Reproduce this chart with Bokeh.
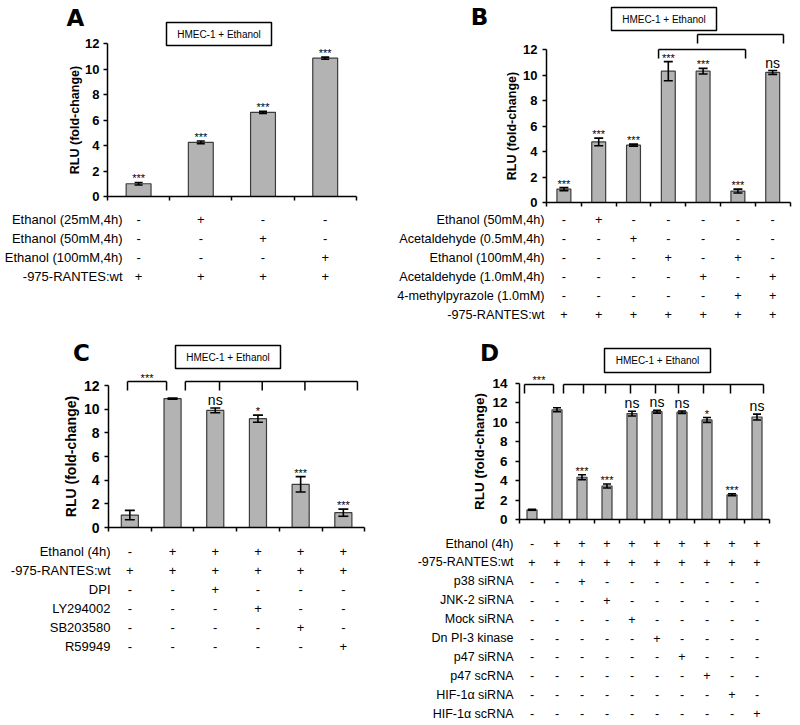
from bokeh.plotting import figure
from bokeh.models import Range1d, LinearAxis, FixedTicker, Whisker, ColumnDataSource, TeeHead
from bokeh.layouts import gridplot
from bokeh.embed import file_html
from bokeh.resources import INLINE
from bokeh.core.properties import value

FONT = "Liberation Sans"
LETTER_FONT = "DejaVu Sans"
BAR_FILL = "#b3b3b3"
BAR_LINE = "#3c3c3c"
BOX_TEXT = "HMEC-1 + Ethanol"
Y_LABEL = "RLU (fold-change)"

# ---------------- Panel A ----------------
a_values = [1.0, 4.25, 6.6, 10.85]
a_errors = [0.1, 0.1, 0.08, 0.08]
a_marks = ["***", "***", "***", "***"]
a_rows = ["Ethanol (25mM,4h)", "Ethanol (50mM,4h)", "Ethanol (100mM,4h)", "-975-RANTES:wt"]
a_table = [
    ["-", "+", "-", "-"],
    ["-", "-", "+", "-"],
    ["-", "-", "-", "+"],
    ["+", "+", "+", "+"],
]
a_yticks = [0, 2, 4, 6, 8, 10, 12]

# ---------------- Panel B ----------------
b_values = [1.05, 4.75, 4.5, 10.3, 10.3, 0.9, 10.2]
b_errors = [0.12, 0.3, 0.08, 0.75, 0.22, 0.15, 0.15]
b_marks = ["***", "***", "***", "***", "***", "***", "ns"]
b_rows = ["Ethanol (50mM,4h)", "Acetaldehyde (0.5mM,4h)", "Ethanol (100mM,4h)",
          "Acetaldehyde (1.0mM,4h)", "4-methylpyrazole (1.0mM)", "-975-RANTES:wt"]
b_table = [
    ["-", "+", "-", "-", "-", "-", "-"],
    ["-", "-", "+", "-", "-", "-", "-"],
    ["-", "-", "-", "+", "-", "+", "-"],
    ["-", "-", "-", "-", "+", "-", "+"],
    ["-", "-", "-", "-", "-", "+", "+"],
    ["+", "+", "+", "+", "+", "+", "+"],
]
b_yticks = [0, 2, 4, 6, 8, 10, 12]

# ---------------- Panel C ----------------
c_values = [1.05, 10.9, 9.9, 9.2, 3.65, 1.25]
c_errors = [0.4, 0.05, 0.2, 0.3, 0.65, 0.3]
c_marks = ["", "", "ns", "*", "***", "***"]
c_rows = ["Ethanol (4h)", "-975-RANTES:wt", "DPI", "LY294002", "SB203580", "R59949"]
c_table = [
    ["-", "+", "+", "+", "+", "+"],
    ["+", "+", "+", "+", "+", "+"],
    ["-", "-", "+", "-", "-", "-"],
    ["-", "-", "-", "+", "-", "-"],
    ["-", "-", "-", "-", "+", "-"],
    ["-", "-", "-", "-", "-", "+"],
]
c_yticks = [0, 2, 4, 6, 8, 10, 12]

# ---------------- Panel D ----------------
d_values = [1.0, 11.3, 4.35, 3.45, 10.9, 11.1, 11.05, 10.25, 2.55, 10.55]
d_errors = [0.05, 0.2, 0.25, 0.2, 0.25, 0.15, 0.12, 0.25, 0.1, 0.3]
d_marks = ["", "", "***", "***", "ns", "ns", "ns", "*", "***", "ns"]
d_rows = ["Ethanol (4h)", "-975-RANTES:wt", "p38 siRNA", "JNK-2 siRNA", "Mock siRNA",
          "Dn PI-3 kinase", "p47 siRNA", "p47 scRNA", "HIF-1\u03b1 siRNA", "HIF-1\u03b1 scRNA"]
d_table = [
    ["-", "+", "+", "+", "+", "+", "+", "+", "+", "+"],
    ["+", "+", "+", "+", "+", "+", "+", "+", "+", "+"],
    ["-", "-", "+", "-", "-", "-", "-", "-", "-", "-"],
    ["-", "-", "-", "+", "-", "-", "-", "-", "-", "-"],
    ["-", "-", "-", "-", "+", "-", "-", "-", "-", "-"],
    ["-", "-", "-", "-", "-", "+", "-", "-", "-", "-"],
    ["-", "-", "-", "-", "-", "-", "+", "-", "-", "-"],
    ["-", "-", "-", "-", "-", "-", "-", "+", "-", "-"],
    ["-", "-", "-", "-", "-", "-", "-", "-", "+", "-"],
    ["-", "-", "-", "-", "-", "-", "-", "-", "-", "+"],
]
d_yticks = [0, 2, 4, 6, 8, 10, 12, 14]

# ---------------- layout geometry (picture pixels) ----------------
GEO = {
    "A": dict(fig=(0, 0, 392, 330), axis_x=107, y0=196, s=12.75, c=62.2,
              row0=219, row_step=19.0, label_dx=15, cap=8,
              box=(166, 22, 271, 45), letter=(75, 17),
              tick_fs="13px", tick_standoff=4, lab_fs="12.5px", lab_standoff=0, tbl_fs="13px",
              brackets=[]),
    "B": dict(fig=(392, 0, 408, 330), axis_x=546, y0=202, s=12.75, c=34.8,
              row0=219, row_step=19.0, label_dx=-2, cap=9,
              box=(611, 7, 716, 30), letter=(479, 16),
              tick_fs="13px", tick_standoff=5, lab_fs="12.5px", lab_standoff=1, tbl_fs="12.7px",
              brackets=[dict(legs=[3.22, 5.72], top=12.0, bot=11.3, mark=""),
                        dict(legs=[4.34, 6.81], top=13.18, bot=12.47, mark="")]),
    "C": dict(fig=(0, 330, 392, 395), axis_x=108, y0=527, s=11.83, c=42.7,
              row0=551, row_step=18.9, label_dx=2, cap=10,
              box=(175, 345, 280, 368), letter=(81, 352),
              tick_fs="14px", tick_standoff=5, lab_fs="14px", lab_standoff=2, tbl_fs="13px",
              brackets=[dict(legs=[0.445, 1.36], top=12.34, bot=11.58, mark="***"),
                        dict(legs=[1.8, 2.6, 3.6, 4.6, 5.83], top=12.34, bot=11.58, mark="")]),
    "D": dict(fig=(392, 330, 408, 395), axis_x=519, y0=519, s=9.714, c=25.0,
              row0=543, row_step=18.9, label_dx=-6, cap=8,
              box=(604, 348, 710, 372), letter=(489, 352),
              tick_fs="13.5px", tick_standoff=8, lab_fs="13.5px", lab_standoff=2, tbl_fs="12.5px",
              brackets=[dict(legs=[0.2, 1.36], top=13.9, bot=12.97, mark="***"),
                        dict(legs=[1.76, 2.56, 3.44, 4.44, 5.44, 6.36, 7.36, 8.44, 9.76],
                             top=13.9, bot=12.97, mark="")]),
}


def build(letter, values, errors, marks, rows, table, yticks):
    g = GEO[letter]
    n = len(values)
    ax, y0, s, c = g["axis_x"], g["y0"], g["s"], g["c"]
    ox, oy, W, H = g["fig"]

    def X(px):
        return (px - ax) / c

    def Y(py):
        return (y0 - py) / s

    p = figure(width=W, height=H, x_range=Range1d(X(ox), X(ox + W)),
               y_range=Range1d(Y(oy + H), Y(oy)), x_axis_type=None, y_axis_type=None,
               tools="", toolbar_location=None, output_backend="svg", min_border=0,
               outline_line_color=None)
    p.background_fill_color = "white"
    p.border_fill_color = "white"

    centers = [i + 0.5 for i in range(n)]
    src = ColumnDataSource(dict(
        x=centers, top=values,
        lower=[v - e for v, e in zip(values, errors)],
        upper=[v + e for v, e in zip(values, errors)],
    ))
    p.vbar(x="x", top="top", bottom=0, width=0.4, source=src,
           fill_color=BAR_FILL, line_color=BAR_LINE, line_width=1.2)
    wh = Whisker(base="x", lower="lower", upper="upper", source=src,
                 line_color="black", line_width=1.6, level="annotation",
                 upper_head=TeeHead(size=g["cap"], line_color="black", line_width=1.6),
                 lower_head=TeeHead(size=g["cap"], line_color="black", line_width=1.6))
    p.add_layout(wh)

    # significance marks
    star_i = [i for i, m in enumerate(marks) if m.startswith("*")]
    ns_i = [i for i, m in enumerate(marks) if m == "ns"]
    if star_i:
        p.text(x=[centers[i] for i in star_i],
               y=[values[i] + errors[i] - 2.0 / s for i in star_i],
               text=[marks[i] for i in star_i], text_font=value(FONT),
               text_font_size="11px", text_align="center", text_baseline="bottom",
               text_color="black")
    if ns_i:
        p.text(x=[centers[i] for i in ns_i],
               y=[values[i] + errors[i] + 0.0 / s for i in ns_i],
               text=[marks[i] for i in ns_i], text_font=value(FONT),
               text_font_size="14px", text_align="center", text_baseline="bottom",
               text_color="black")

    # axes
    yax = LinearAxis(fixed_location=0, bounds=(0, yticks[-1]), ticker=FixedTicker(ticks=yticks),
                     axis_label=Y_LABEL, axis_label_text_font=FONT,
                     axis_label_text_font_style="bold", axis_label_text_font_size=g["lab_fs"],
                     axis_label_standoff=g["lab_standoff"], axis_label_text_color="black",
                     major_label_text_font=FONT, major_label_text_font_style="bold",
                     major_label_text_font_size=g["tick_fs"], major_label_standoff=g["tick_standoff"],
                     major_label_text_color="black",
                     axis_line_width=1.5, major_tick_line_width=1.5,
                     major_tick_in=0, major_tick_out=4, minor_tick_line_color=None)
    p.add_layout(yax, "left")
    xticks = list(range(n + 1))
    xax = LinearAxis(fixed_location=0, bounds=(0, n), ticker=FixedTicker(ticks=xticks),
                     major_label_overrides={t: "" for t in xticks},
                     axis_line_width=1.5, major_tick_line_width=1.5,
                     major_tick_in=0, major_tick_out=4, minor_tick_line_color=None)
    p.add_layout(xax, "below")

    # brackets
    for br in g["brackets"]:
        legs = br["legs"]
        p.segment(x0=[legs[0]], y0=[br["top"]], x1=[legs[-1]], y1=[br["top"]],
                  line_color="black", line_width=1.5)
        p.segment(x0=legs, y0=[br["top"]] * len(legs), x1=legs, y1=[br["bot"]] * len(legs),
                  line_color="black", line_width=1.5)
        if br["mark"]:
            p.text(x=[(legs[0] + legs[-1]) / 2], y=[br["top"] - 2.0 / s], text=[br["mark"]],
                   text_font=value(FONT), text_font_size="11px", text_align="center",
                   text_baseline="bottom", text_color="black")

    # condition table
    row_y = [Y(g["row0"] + k * g["row_step"]) for k in range(len(rows))]
    p.text(x=[X(ax + g["label_dx"])] * len(rows), y=row_y, text=rows,
           text_font=value(FONT), text_font_size=g["tbl_fs"], text_align="right",
           text_baseline="middle", text_color="black")
    sx, sy, st = [], [], []
    for k, r in enumerate(table):
        for i, sym in enumerate(r):
            sx.append(centers[i])
            sy.append(row_y[k])
            st.append(sym)
    p.text(x=sx, y=sy, text=st, text_font=value(FONT), text_font_size=g["tbl_fs"],
           text_align="center", text_baseline="middle", text_color="black")

    # title box
    bx0, by0, bx1, by1 = g["box"]
    p.quad(left=[X(bx0)], right=[X(bx1)], top=[Y(by0)], bottom=[Y(by1)],
           fill_color="white", line_color="black", line_width=1.5)
    p.text(x=[X((bx0 + bx1) / 2)], y=[Y((by0 + by1) / 2)], text=[BOX_TEXT],
           text_font=value(FONT), text_font_size="10px", text_align="center",
           text_baseline="middle", text_color="black")

    # panel letter
    lx, ly = g["letter"]
    p.text(x=[X(lx)], y=[Y(ly)], text=[letter], text_font=value(LETTER_FONT),
           text_font_style="bold", text_font_size="23px", text_align="center",
           text_baseline="middle", text_color="black")
    return p


pA = build("A", a_values, a_errors, a_marks, a_rows, a_table, a_yticks)
pB = build("B", b_values, b_errors, b_marks, b_rows, b_table, b_yticks)
pC = build("C", c_values, c_errors, c_marks, c_rows, c_table, c_yticks)
pD = build("D", d_values, d_errors, d_marks, d_rows, d_table, d_yticks)

layout = gridplot([[pA, pB], [pC, pD]], toolbar_location=None)

open("out.html", "w").write(file_html(layout, INLINE))
